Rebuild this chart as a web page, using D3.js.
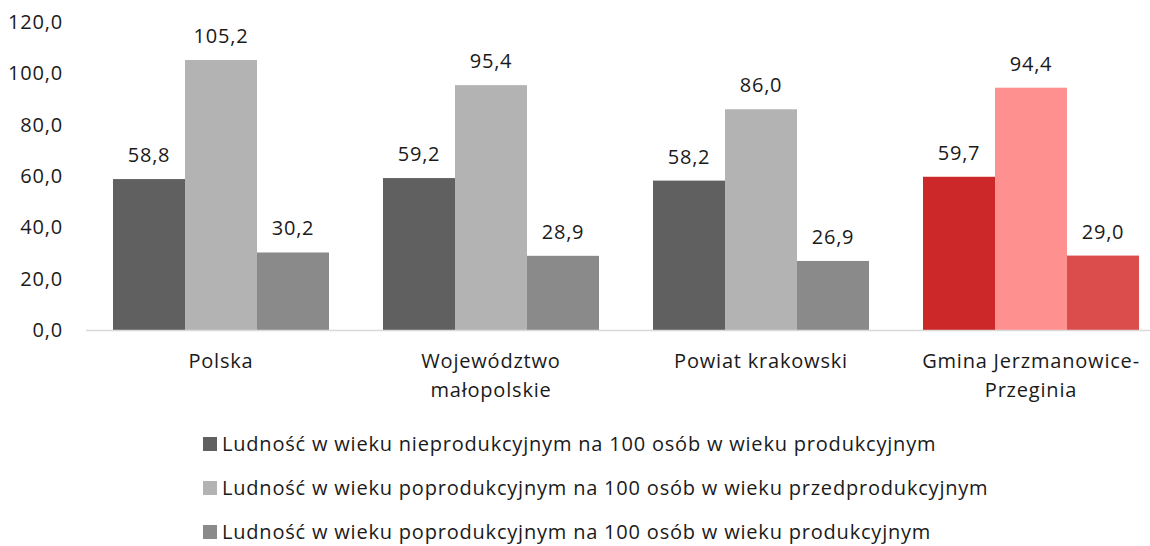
<!DOCTYPE html>
<meta charset="utf-8">
<head>
    <script src="https://d3js.org/d3.v7.min.js"></script>
    <style>
        body { margin: 0; background: #fff; }
        text { font-family: "Open Sans", sans-serif; fill: #1a1a1a; letter-spacing: 0.8px; }
    </style>
</head>
<body>
    <div id="chart"></div>
    <script>
        // data
        var categories = [["Polska"], ["Województwo", "małopolskie"], ["Powiat krakowski"], ["Gmina Jerzmanowice-", "Przeginia"]];
        var seriesNames = [
            "Ludność w wieku nieprodukcyjnym na 100 osób w wieku produkcyjnym",
            "Ludność w wieku poprodukcyjnym na 100 osób w wieku przedprodukcyjnym",
            "Ludność w wieku poprodukcyjnym na 100 osób w wieku produkcyjnym"
        ];
        var nieprodukcyjny = [58.8, 59.2, 58.2, 59.7];
        var poprzed = [105.2, 95.4, 86.0, 94.4];
        var poprod = [30.2, 28.9, 26.9, 29.0];
        var yTicks = [0, 20, 40, 60, 80, 100, 120];

        var greys = ["#606060", "#b3b3b3", "#8a8a8a"];
        var reds = ["#cd2829", "#fe9090", "#db4c4c"];

        var width = 1150, height = 546;
        var fs = "20px";
        var svg = d3.select("#chart").append("svg")
            .attr("width", width)
            .attr("height", height);

        var x = d3.scaleBand()
            .domain(d3.range(categories.length))
            .range([86, 1166]);

        var xs = d3.scaleBand()
            .domain([0, 1, 2])
            .range([27, 243]);

        var y = d3.scaleLinear()
            .domain([0, 120])
            .range([330, 22]);

        // y axis labels
        svg.append("g").selectAll("text")
            .data(yTicks)
            .enter().append("text")
            .attr("x", 63)
            .attr("y", function(d) { return y(d); })
            .attr("dy", "0.35em")
            .attr("text-anchor", "end")
            .style("font-size", fs)
            .text(function(d) { return d.toFixed(1).replace(".", ","); });

        var series = [nieprodukcyjny, poprzed, poprod];

        var groups = svg.append("g").selectAll("g")
            .data(categories)
            .enter().append("g")
            .attr("transform", function(d, i) { return "translate(" + x(i) + ",0)"; });

        groups.each(function(cat, i) {
            var g = d3.select(this);
            series.forEach(function(s, j) {
                var col = i === 3 ? reds[j] : greys[j];
                g.append("rect")
                    .attr("x", xs(j))
                    .attr("y", y(s[i]))
                    .attr("width", xs.bandwidth())
                    .attr("height", y(0) - y(s[i]))
                    .attr("fill", col);
                g.append("text")
                    .attr("x", xs(j) + xs.bandwidth() / 2)
                    .attr("y", y(s[i]) - 17)
                    .attr("text-anchor", "middle")
                    .style("font-size", fs)
                    .text(s[i].toFixed(1).replace(".", ","));
            });
            g.append("text")
                .attr("text-anchor", "middle")
                .style("font-size", fs)
                .selectAll("tspan")
                .data(cat)
                .enter().append("tspan")
                .attr("x", x.bandwidth() / 2)
                .attr("y", function(d, k) { return 368 + k * 29; })
                .text(function(d) { return d; });
        });

        // baseline
        svg.append("line")
            .attr("x1", 86)
            .attr("x2", 1166)
            .attr("y1", y(0) + 0.5)
            .attr("y2", y(0) + 0.5)
            .attr("stroke", "#d9d9d9")
            .attr("stroke-width", 1.5);

        // legend
        var legendY = [444, 488, 532];
        var legend = svg.append("g").selectAll("g")
            .data(seriesNames)
            .enter().append("g")
            .attr("transform", function(d, i) { return "translate(203," + legendY[i] + ")"; });
        legend.append("rect")
            .attr("x", 0)
            .attr("y", -7)
            .attr("width", 14)
            .attr("height", 14)
            .attr("fill", function(d, i) { return greys[i]; });
        legend.append("text")
            .attr("x", 19)
            .attr("y", 0)
            .attr("dy", "0.35em")
            .style("font-size", fs)
            .text(function(d) { return d; });
    </script>
</body>
</html>
